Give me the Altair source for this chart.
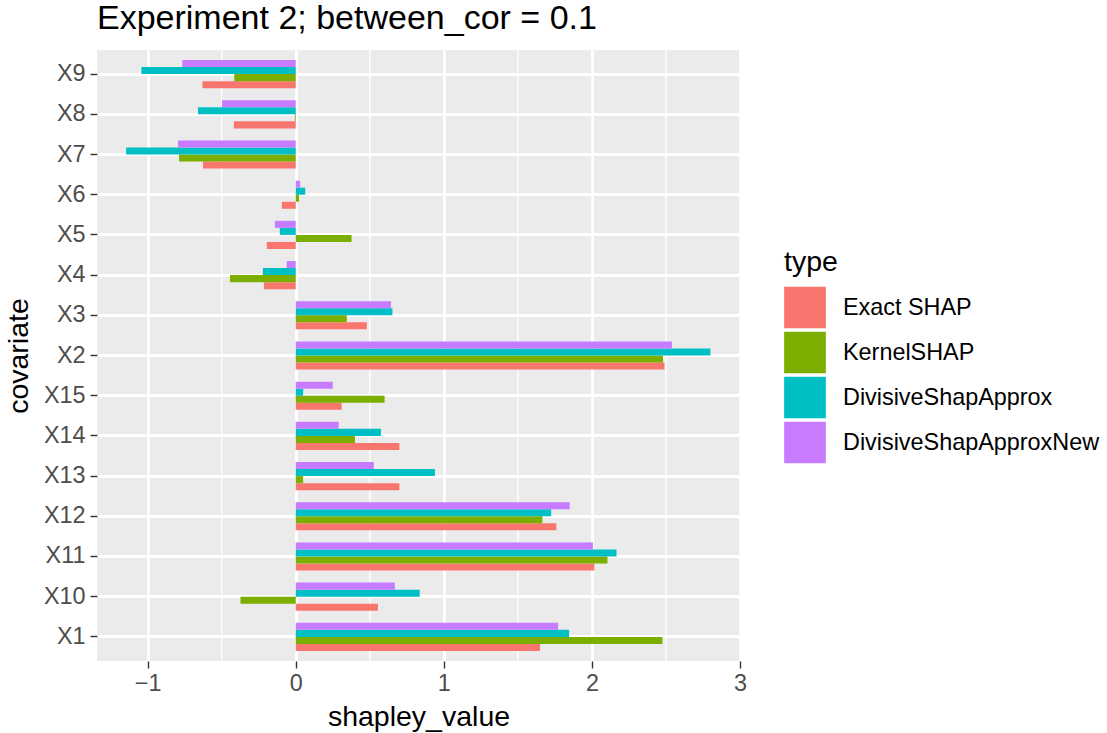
import altair as alt
import pandas as pd

# Covariates in factor order (bottom of the axis first)
covariates = ["X1", "X10", "X11", "X12", "X13", "X14", "X15",
              "X2", "X3", "X4", "X5", "X6", "X7", "X8", "X9"]
types = ["Exact SHAP", "KernelSHAP", "DivisiveShapApprox", "DivisiveShapApproxNew"]

exact_shap = [1.650, 0.555, 2.016, 1.760, 0.700, 0.700, 0.310,
              2.490, 0.480, -0.215, -0.195, -0.094, -0.626, -0.418, -0.630]
kernel_shap = [2.476, -0.373, 2.105, 1.665, 0.050, 0.400, 0.600,
               2.480, 0.345, -0.444, 0.377, 0.022, -0.788, -0.006, -0.415]
divisive = [1.846, 0.837, 2.166, 1.725, 0.940, 0.575, 0.050,
            2.800, 0.653, -0.222, -0.108, 0.064, -1.145, -0.660, -1.042]
divisive_new = [1.772, 0.669, 2.007, 1.850, 0.527, 0.290, 0.250,
                2.540, 0.643, -0.061, -0.141, 0.030, -0.795, -0.498, -0.766]

x_breaks = [-1, 0, 1, 2, 3]
x_minor = [-0.5, 0.5, 1.5, 2.5]
palette = ["#F8766D", "#7CAE00", "#00BFC4", "#C77CFF"]

rows = []
for t, vals in zip(types, [exact_shap, kernel_shap, divisive, divisive_new]):
    for c, v in zip(covariates, vals):
        rows.append({"covariate": c, "type": t, "shapley_value": v})
df = pd.DataFrame(rows)
minor_df = pd.DataFrame({"x": x_minor})

FONT = "Liberation Sans"
x_scale = alt.Scale(domain=[-1.342, 3.0], nice=False, zero=False)

minor_grid = alt.Chart(minor_df).mark_rule(color="white", strokeWidth=1.4).encode(
    x=alt.X("x:Q", scale=x_scale)
)

# Dodged bars: each covariate group fills 70% of its slot
bars = alt.Chart(df).mark_bar().encode(
    x=alt.X("shapley_value:Q", scale=x_scale, title="shapley_value",
            axis=alt.Axis(values=x_breaks, format="d", labelFlush=False)),
    y=alt.Y("covariate:N", sort=list(reversed(covariates)), title="covariate",
            scale=alt.Scale(paddingInner=0.3, paddingOuter=0.25),
            axis=alt.Axis(bandPosition=0.5)),
    yOffset=alt.YOffset("type:N", sort=list(reversed(types)),
                        scale=alt.Scale(paddingInner=0, paddingOuter=0)),
    color=alt.Color("type:N", scale=alt.Scale(domain=types, range=palette),
                    legend=alt.Legend(title="type", orient="none",
                                      legendX=687, legendY=198)),
)

chart = alt.layer(minor_grid, bars).properties(
    width=643,
    height=611,
    title=alt.TitleParams("Experiment 2; between_cor = 0.1", anchor="start",
                          frame="group", fontSize=34, font=FONT,
                          fontWeight="normal", color="black",
                          baseline="alphabetic", offset=18, dy=32),
    padding={"left": 97, "top": 50, "right": 367, "bottom": 72},
    autosize=alt.AutoSizeParams(type="none"),
).configure_view(
    fill="#EBEBEB", stroke=None
).configure_axis(
    grid=True, gridColor="white", gridWidth=2.8, domain=False,
    tickColor="#333333", tickSize=7, tickWidth=1.4,
    labelFont=FONT, labelFontSize=23.4, labelColor="#4D4D4D",
    labelPadding=5,
    titleFont=FONT, titleFontSize=28.5, titleFontWeight="normal", titleColor="black",
).configure_axisY(
    titlePadding=10
).configure_axisX(
    titlePadding=8, labelPadding=4
).configure_legend(
    padding=0, titleFont=FONT, titleFontSize=28.5, titleFontWeight="normal",
    titleColor="black", titlePadding=10,
    labelFont=FONT, labelFontSize=23.4, labelColor="black", labelOffset=17,
    labelLimit=0,
    symbolType="square", symbolSize=1740, symbolStrokeWidth=0,
    symbolOpacity=1, rowPadding=3,
)

chart.save("out.html", embed_options={"renderer": "svg", "actions": False})
